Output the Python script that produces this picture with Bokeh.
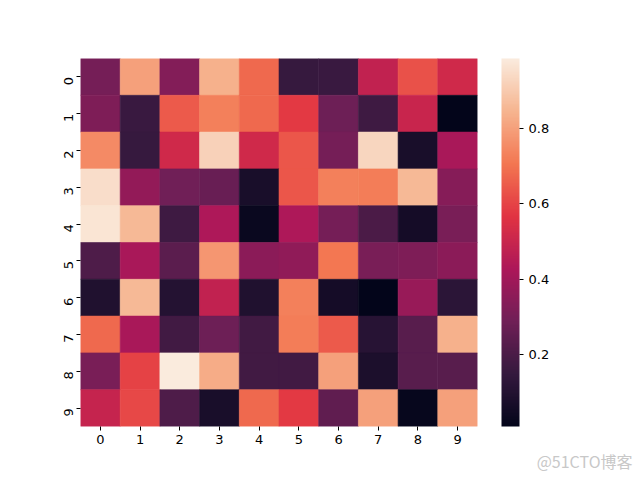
import math
import numpy as np
from bokeh.plotting import figure
from bokeh.models import ColumnDataSource, LinearColorMapper, ColorBar, FixedTicker, Title, Range1d
from bokeh.transform import transform
from bokeh.embed import file_html
from bokeh.resources import INLINE

rows = ["0", "1", "2", "3", "4", "5", "6", "7", "8", "9"]
cols = ["0", "1", "2", "3", "4", "5", "6", "7", "8", "9"]

row0 = [0.30, 0.80, 0.33, 0.84, 0.68, 0.15, 0.16, 0.48, 0.63, 0.52]
row1 = [0.32, 0.16, 0.65, 0.73, 0.68, 0.58, 0.28, 0.17, 0.50, 0.008]
row2 = [0.75, 0.15, 0.52, 0.92, 0.52, 0.64, 0.30, 0.93, 0.07, 0.42]
row3 = [0.95, 0.37, 0.29, 0.27, 0.07, 0.64, 0.73, 0.72, 0.86, 0.34]
row4 = [0.97, 0.86, 0.17, 0.43, 0.03, 0.43, 0.30, 0.20, 0.06, 0.31]
row5 = [0.21, 0.42, 0.24, 0.78, 0.35, 0.36, 0.71, 0.31, 0.32, 0.35]
row6 = [0.09, 0.86, 0.10, 0.48, 0.09, 0.73, 0.06, 0.01, 0.38, 0.12]
row7 = [0.68, 0.42, 0.18, 0.28, 0.18, 0.72, 0.65, 0.11, 0.23, 0.84]
row8 = [0.31, 0.60, 0.987, 0.83, 0.18, 0.18, 0.80, 0.08, 0.23, 0.23]
row9 = [0.49, 0.61, 0.21, 0.07, 0.68, 0.58, 0.25, 0.80, 0.02, 0.80]
values = [row0, row1, row2, row3, row4, row5, row6, row7, row8, row9]

cbar_ticks = [0.2, 0.4, 0.6, 0.8]

# rocket colormap anchors
rocket_anchors = ["#03051A", "#35193E", "#701F57", "#AD1759", "#E13342", "#F37651", "#F6B48F", "#FAEBDD"]

def build_palette(anchors, n=256):
    rgb = np.array([[int(h[i:i + 2], 16) for i in (1, 3, 5)] for h in anchors], dtype=float)
    pos = np.linspace(0, 1, len(anchors))
    t = np.linspace(0, 1, n)
    out = []
    for tt in t:
        c = [np.interp(tt, pos, rgb[:, k]) for k in range(3)]
        out.append("#%02x%02x%02x" % tuple(int(round(v)) for v in c))
    return out

palette = build_palette(rocket_anchors)

xs, ys, vs = [], [], []
for i, r in enumerate(values):
    for j, v in enumerate(r):
        xs.append(j + 0.5)
        ys.append(i + 0.5)
        vs.append(v)
src = ColumnDataSource(dict(x=xs, y=ys, v=vs))

allv = [v for r in values for v in r]
mapper = LinearColorMapper(palette=palette, low=min(allv), high=max(allv))

p = figure(width=640, height=480, output_backend="svg", toolbar_location=None,
           x_range=Range1d(0, 10), y_range=Range1d(10, 0),
           min_border_left=80, min_border_right=163, min_border_top=58, min_border_bottom=54)
p.rect(x="x", y="y", width=1, height=1, source=src,
       fill_color=transform("v", mapper), line_color=transform("v", mapper), line_width=0.6)

p.grid.visible = False
p.outline_line_color = None
for ax in (p.xaxis[0], p.yaxis[0]):
    ax.axis_line_color = None
    ax.minor_tick_line_color = None
    ax.major_tick_out = 4
    ax.major_tick_in = 0
    ax.major_tick_line_color = "black"
    ax.major_label_text_font = "DejaVu Sans"
    ax.major_label_text_font_size = "13px"
    ax.major_label_text_color = "black"
    ax.major_label_standoff = 4
p.yaxis.major_label_standoff = 8
p.xaxis.ticker = FixedTicker(ticks=[k + 0.5 for k in range(10)])
p.yaxis.ticker = FixedTicker(ticks=[k + 0.5 for k in range(10)])
p.xaxis.major_label_overrides = {k + 0.5: c for k, c in enumerate(cols)}
p.yaxis.major_label_overrides = {k + 0.5: r for k, r in enumerate(rows)}
p.yaxis.major_label_orientation = math.pi / 2

cb = ColorBar(color_mapper=mapper, width=18, height=368, location=(24, 0),
              margin=0, padding=0, ticker=FixedTicker(ticks=cbar_ticks),
              major_tick_out=4, major_tick_in=0, major_tick_line_color="black",
              minor_tick_line_color=None, bar_line_color=None, border_line_color=None,
              background_fill_color=None,
              major_label_text_font="DejaVu Sans", major_label_text_font_size="13px",
              major_label_text_color="black", label_standoff=5)
p.add_layout(cb, "right")

wm = Title(text="@51CTO博客", align="right", offset=-155, standoff=1,
           text_font="Noto Sans CJK SC", text_font_style="normal",
           text_font_size="16px", text_color="#c8c8c8")
p.add_layout(wm, "below")

open("out.html", "w").write(file_html(p, INLINE))
